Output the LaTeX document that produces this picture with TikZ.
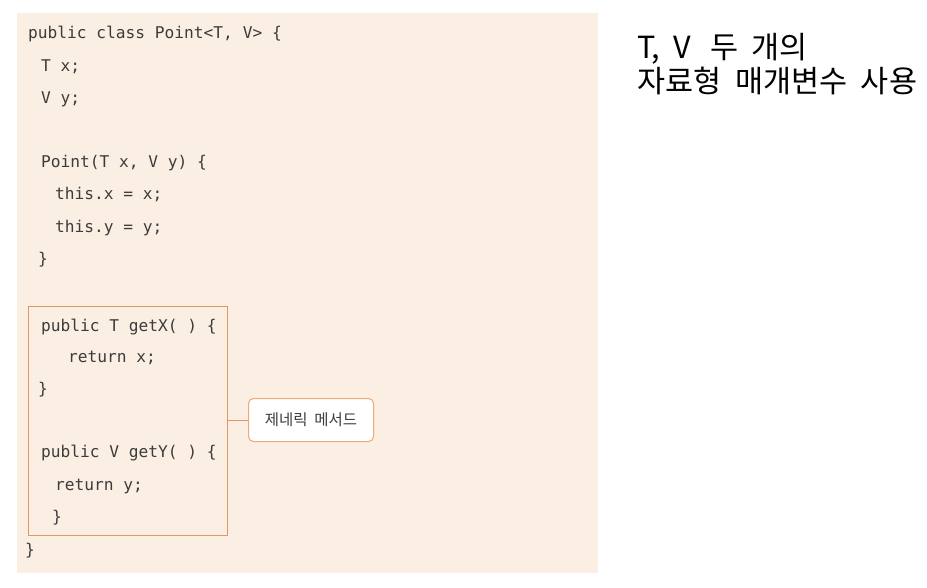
\documentclass[tikz,border=0pt]{standalone}
\usepackage{fontspec}
\setmainfont{Noto Sans CJK KR}
\newfontfamily\codefont{DejaVu Sans Mono}
\newfontfamily\kr[WordSpace=2.3]{Noto Sans CJK KR}
\newfontfamily\krs[WordSpace=2.0]{Noto Sans CJK KR}
\begin{document}
\begin{tikzpicture}[x=1pt,y=-1pt,
  code/.style={anchor=base west,inner sep=0pt,font=\codefont\fontsize{16.2}{16.2}\selectfont,text=codegray},
  bigtxt/.style={anchor=base west,inner sep=0pt,font=\kr\fontsize{30.5}{30.5}\selectfont,text=black}]
\definecolor{panel}{RGB}{251,238,227}
\definecolor{codegray}{RGB}{60,60,60}
\definecolor{boxorange}{RGB}{228,150,100}
\definecolor{lblorange}{RGB}{236,170,120}
\useasboundingbox (0,0) rectangle (927,587);
\fill[white] (0,0) rectangle (927,587);
\fill[panel] (17,13) rectangle (598,573);
% code lines
\node[code] (l1) at (28,38) {public class Point<T, V> \{};
\node[code] (l2) at (41,71) {T x;};
\node[code] (l3) at (41,103) {V y;};
\node[code] (l4) at (41,167) {Point(T x, V y) \{};
\node[code] (l5) at (55,199) {this.x = x;};
\node[code] (l6) at (55,232) {this.y = y;};
\node[code] (l7) at (38,264) {\}};
% method box
\node[draw=boxorange,line width=1pt,inner sep=0pt,minimum width=199pt,minimum height=229pt,anchor=north west] (mbox) at (27.5,306) {};
\node[code] (m1) at (41,331) {public T getX( ) \{};
\node[code] (m2) at (68,362) {return x;};
\node[code] (m3) at (38,394) {\}};
\node[code] (m4) at (41,457) {public V getY( ) \{};
\node[code] (m5) at (55,490) {return y;};
\node[code] (m6) at (52,522) {\}};
\node[code] (l8) at (25,555) {\}};
% label
\node[draw=lblorange,line width=1pt,fill=white,rounded corners=5pt,minimum width=125pt,minimum height=43pt,inner sep=0pt,anchor=west,font=\krs\fontsize{15.5}{15.5}\selectfont,text=codegray] (lbl) at (248,420) {제네릭 메서드};
\draw[boxorange,line width=1pt] (mbox.east |- lbl.west) -- (lbl.west);
% right text
\node[bigtxt] (r1) at (637,58) {T, V\hspace{5pt} 두 개의};
\node[bigtxt] (r2) at (637,92) {자료형 매개변수 사용};
\end{tikzpicture}
\end{document}
